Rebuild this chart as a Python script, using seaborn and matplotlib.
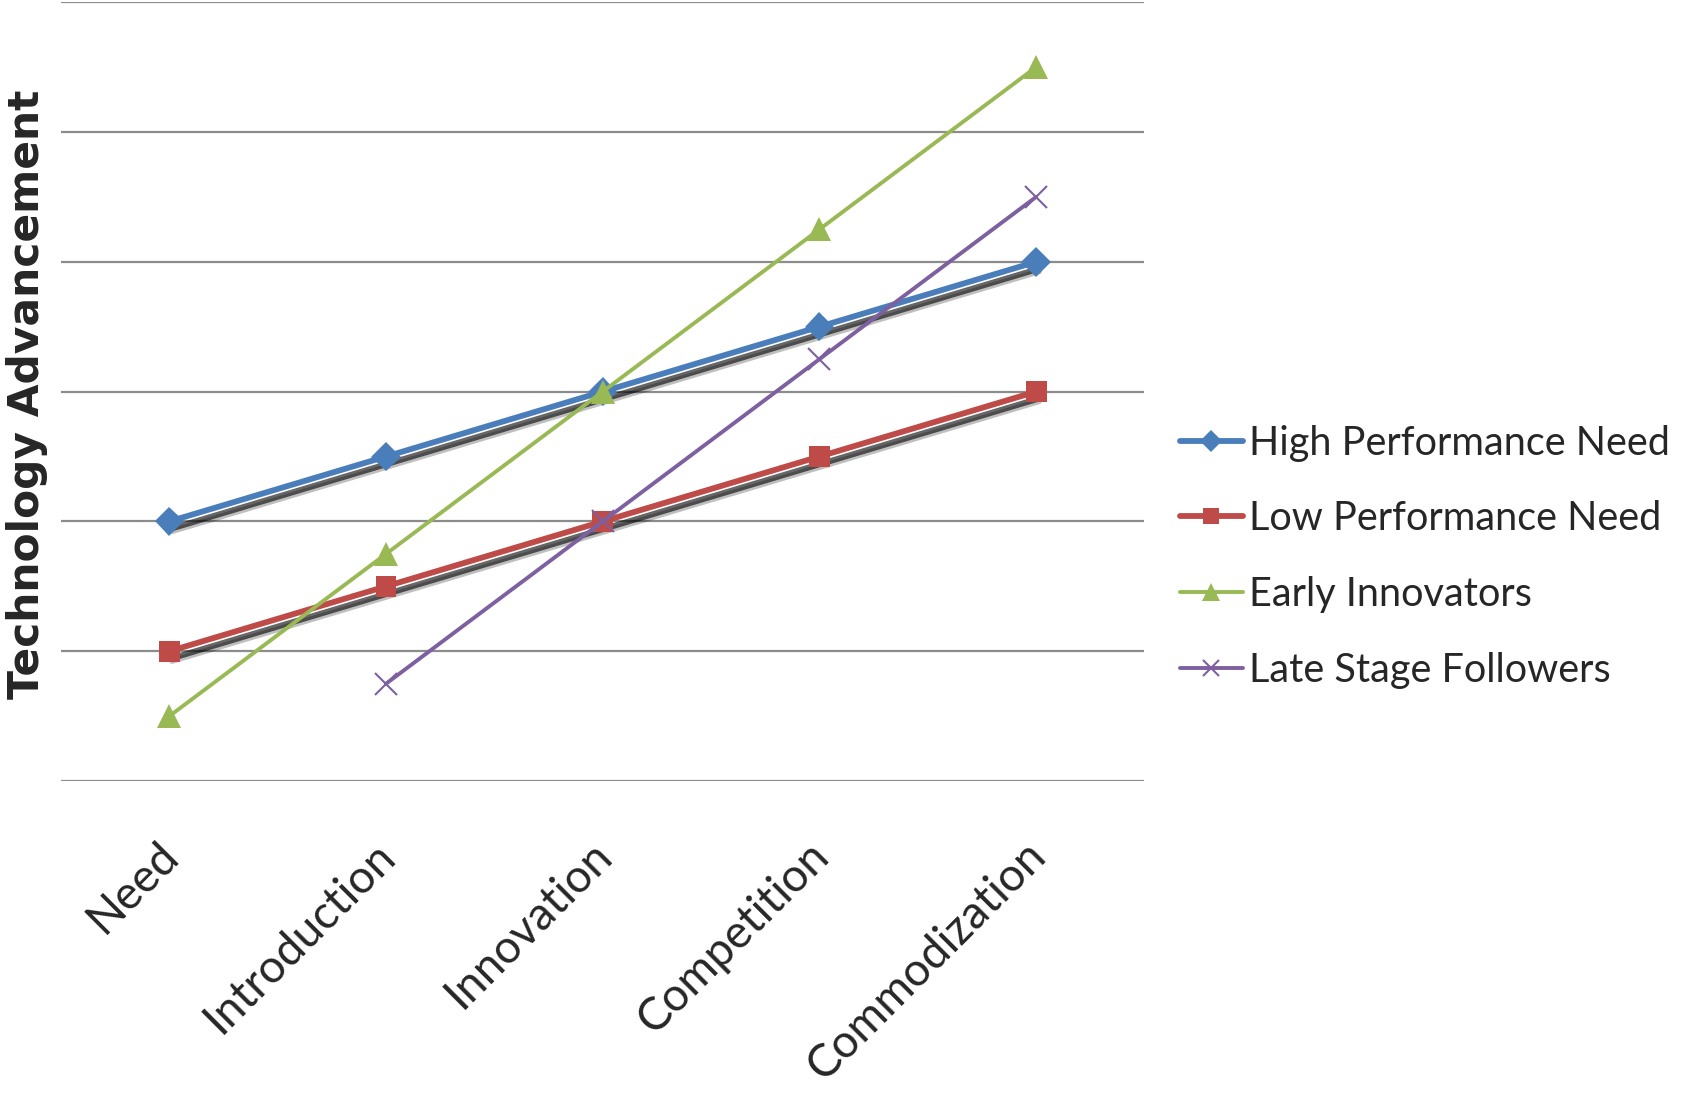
import matplotlib
matplotlib.use("Agg")
import matplotlib.pyplot as plt
import matplotlib.patheffects as pe
import matplotlib.transforms as mtransforms
import numpy as np
import pandas as pd
import seaborn as sns

stages = ['Need', 'Introduction', 'Innovation', 'Competition', 'Commodization']
high_perf = [2.0, 2.5, 3.0, 3.5, 4.0]
low_perf = [1.0, 1.5, 2.0, 2.5, 3.0]
early_innov = [0.5, 1.75, 3.0, 4.25, 5.5]
late_follow = [np.nan, 0.75, 2.0, 3.25, 4.5]

series = [
    ('High Performance Need', high_perf, '#4A7EBB', 'D', 4.2, 15, True),
    ('Low Performance Need', low_perf, '#BE4B48', 's', 4.2, 15, True),
    ('Early Innovators', early_innov, '#98B954', '^', 2.8, 17, False),
    ('Late Stage Followers', late_follow, '#7D60A0', 'x', 2.8, 16, False),
]

sns.set_style('white')
plt.rcParams['font.family'] = ['Lato', 'DejaVu Sans']

fig = plt.figure(figsize=(16.85, 10.97), dpi=100)
ax = fig.add_axes([0.0362, 0.288, 0.643, 0.710])

# drop shadow under the two main lines
soft_shadow = [
    pe.SimpleLineShadow(offset=(2, -7), shadow_color='black', alpha=0.25),
    pe.SimpleLineShadow(offset=(2, -5), shadow_color='black', alpha=0.6),
    pe.Normal(),
]

x = np.arange(len(stages))
for name, vals, color, marker, lw, ms, shadow in series:
    df = pd.DataFrame({'stage': x, 'value': vals}).dropna()
    sns.lineplot(data=df, x='stage', y='value', ax=ax, color=color, lw=lw,
                 marker=marker, markersize=ms, markeredgecolor=color,
                 markeredgewidth=1.5 if marker == 'x' else 0, label=name)
    if shadow:
        ax.get_lines()[-1].set_path_effects(soft_shadow)

ax.set_xlim(-0.5, 4.5)
ax.set_ylim(0, 6)
ax.set_yticks(np.arange(0, 7))
ax.set_yticklabels([])
ax.grid(axis='y', color='#8c8c8c', lw=1.6)
ax.set_axisbelow(True)
ax.tick_params(axis='both', length=0)
sns.despine(ax=ax, left=True, bottom=True)

ax.set_xticks(x)
ax.set_xticklabels(stages, rotation=45, ha='right', va='top',
                   rotation_mode='anchor', fontsize=33)
ax.tick_params(axis='x', pad=38)
shift = mtransforms.ScaledTranslation(-12 / 100, 0, fig.dpi_scale_trans)
for lab in ax.get_xticklabels():
    lab.set_transform(lab.get_transform() + shift)
ax.set_xlabel('')
ax.set_ylabel('Technology Advancement', fontsize=30.5, fontweight='bold',
              family='DejaVu Sans', labelpad=2)
ax.yaxis.set_label_coords(-0.012, 0.497)

leg = ax.legend(loc='center left', bbox_to_anchor=(1.018, 0.288), frameon=False,
                fontsize=28.5, handlelength=1.6, handletextpad=0.15,
                labelspacing=0.98, borderaxespad=0, markerscale=0.75)
for h in leg.legend_handles:
    h.set_path_effects([])

fig.savefig('out.png', dpi=100)
